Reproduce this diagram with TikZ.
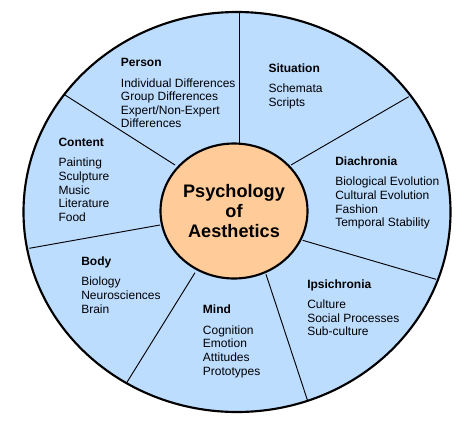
\documentclass[tikz,border=0pt]{standalone}
\usepackage{fontspec}
\setmainfont{Liberation Sans}
\definecolor{sectorblue}{RGB}{189,221,255}
\definecolor{corepeach}{RGB}{255,204,153}

\begin{document}
\begin{tikzpicture}
[
	sector/.style={align=left,anchor=north west,inner sep=0pt,font=\fontsize{9}{10.2}\selectfont},
	title/.style={align=center,inner sep=0pt,font=\fontsize{13.6}{15}\selectfont\bfseries},
	x=0.75pt,y=-0.75pt
]
	\useasboundingbox (0,0) rectangle (472,422);

	% outer ring
	\draw[line width=1.6pt,fill=sectorblue] (237,212) ellipse [x radius=213.5,y radius=200];

	% dividers
	\draw[line width=0.7pt] (239,12) -- (239,150);
	\draw[line width=0.7pt] (65,95) -- (175,165);
	\draw[line width=0.7pt] (408.7,96.7) -- (291,165);
	\draw[line width=0.7pt] (436,279.3) -- (302.7,240.3);
	\draw[line width=0.7pt] (307.7,401) -- (266,274.3);
	\draw[line width=0.7pt] (126.7,382.7) -- (195,272.7);
	\draw[line width=0.7pt] (29.3,248.3) -- (160,225);

	% core
	\draw[line width=1.6pt,fill=corepeach] (234,211) ellipse [x radius=73.5,y radius=67.5];
	\node[title] (core) at (234,211) {Psychology\\of\\Aesthetics};

	% sectors
	\node[sector] (person) at (120.7,58.4) {\textbf{Person}\\[5pt]Individual Differences\\Group Differences\\Expert/Non-Expert\\Differences};
	\node[sector] (situation) at (268.3,63.4) {\textbf{Situation}\\[5pt]Schemata\\Scripts};
	\node[sector] (content) at (58.3,138) {\textbf{Content}\\[5pt]Painting\\Sculpture\\Music\\Literature\\Food};
	\node[sector] (diachronia) at (335,156.7) {\textbf{Diachronia}\\[5pt]Biological Evolution\\Cultural Evolution\\Fashion\\Temporal Stability};
	\node[sector] (body) at (81,256.7) {\textbf{Body}\\[5pt]Biology\\Neurosciences\\Brain};
	\node[sector] (ipsichronia) at (307,279.4) {\textbf{Ipsichronia}\\[5pt]Culture\\Social Processes\\Sub-culture};
	\node[sector] (mind) at (202.7,305) {\textbf{Mind}\\[5pt]Cognition\\Emotion\\Attitudes\\Prototypes};

\end{tikzpicture}
\end{document}
